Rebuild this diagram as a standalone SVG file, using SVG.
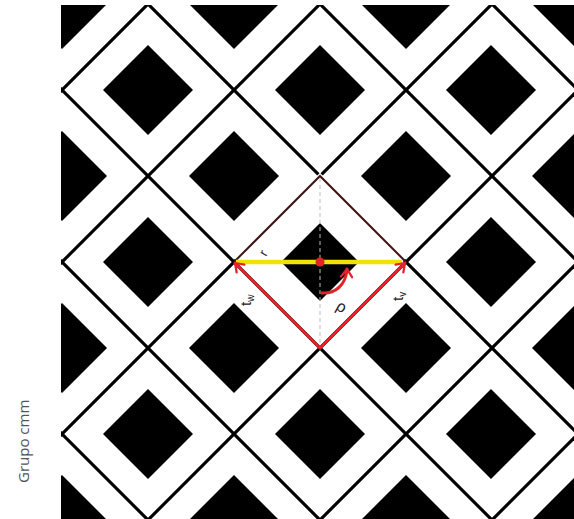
<svg xmlns="http://www.w3.org/2000/svg" xmlns:xlink="http://www.w3.org/1999/xlink" width="574" height="519" viewBox="0 0 574 519">
  <style>
    .grid line { stroke: #000; stroke-width: 3.2; }
    .dia { fill: #000; }
    .red { stroke: #e3222c; stroke-width: 3; fill: none; stroke-linecap: round; }
    .lbl { font-family: "Liberation Sans", Arial, sans-serif; fill: #222; }
  </style>
  <defs>
    <clipPath id="clip"><rect x="61" y="5" width="513" height="514"/></clipPath>
    <path id="d" d="M0,-45 L45,0 L0,45 L-45,0Z"/>
    <marker id="ah" markerUnits="userSpaceOnUse" markerWidth="14" markerHeight="14" viewBox="-12 -8 14 16" refX="0" refY="0" orient="auto">
      <path d="M-9,-6.3 L0,0 L-9,6.3" fill="none" stroke="#e3222c" stroke-width="2.6" stroke-linecap="round" stroke-linejoin="round"/>
    </marker>
  </defs>
  <rect width="574" height="519" fill="#fff"/>

  <g id="pattern" clip-path="url(#clip)">
    <g id="diamonds" class="dia">
      <use xlink:href="#d" x="62" y="4"/><use xlink:href="#d" x="234" y="4"/><use xlink:href="#d" x="406" y="4"/><use xlink:href="#d" x="577" y="4"/>
      <use xlink:href="#d" x="148" y="90"/><use xlink:href="#d" x="320" y="90"/><use xlink:href="#d" x="491" y="90"/>
      <use xlink:href="#d" x="62" y="176"/><use xlink:href="#d" x="234" y="176"/><use xlink:href="#d" x="406" y="176"/><use xlink:href="#d" x="577" y="176"/>
      <use xlink:href="#d" x="148" y="262"/><use xlink:href="#d" x="491" y="262"/>
      <path d="M320,223 L359,262 L320,301 L281,262Z"/>
      <use xlink:href="#d" x="62" y="348"/><use xlink:href="#d" x="234" y="348"/><use xlink:href="#d" x="406" y="348"/><use xlink:href="#d" x="577" y="348"/>
      <use xlink:href="#d" x="148" y="434"/><use xlink:href="#d" x="320" y="434"/><use xlink:href="#d" x="491" y="434"/>
      <use xlink:href="#d" x="62" y="520"/><use xlink:href="#d" x="234" y="520"/><use xlink:href="#d" x="406" y="520"/><use xlink:href="#d" x="577" y="520"/>
    </g>
    <g id="grid" class="grid">
      <line x1="-50" y1="-538" x2="650" y2="162"/>
      <line x1="-50" y1="-366" x2="650" y2="334"/>
      <line x1="-50" y1="-194" x2="650" y2="506"/>
      <line x1="-50" y1="-22" x2="650" y2="678"/>
      <line x1="-50" y1="150" x2="650" y2="850"/>
      <line x1="-50" y1="322" x2="650" y2="1022"/>
      <line x1="-50" y1="202" x2="650" y2="-498"/>
      <line x1="-50" y1="374" x2="650" y2="-326"/>
      <line x1="-50" y1="546" x2="650" y2="-154"/>
      <line x1="-50" y1="718" x2="650" y2="18"/>
      <line x1="-50" y1="890" x2="650" y2="190"/>
      <line x1="-50" y1="1062" x2="650" y2="362"/>
    </g>
  </g>

  <g id="cell-outline">
    <path d="M236,260 L320,176 L404,260" fill="none" stroke="#fff" stroke-width="4.5"/>
    <path d="M234,262 L320,176 L406,262" fill="none" stroke="#3d1212" stroke-width="2"/>
    <line x1="320" y1="178" x2="320" y2="347" stroke="#bdbdbd" stroke-width="1" stroke-dasharray="4 3"/>
  </g>

  <g id="connectors">
    <line id="r-line" x1="236" y1="262" x2="402" y2="262" stroke="#f2e200" stroke-width="4.5"/>
    <line id="tw" class="red" x1="320" y1="348" x2="235" y2="263" marker-end="url(#ah)"/>
    <line id="tv" class="red" x1="320" y1="348" x2="405" y2="263" marker-end="url(#ah)"/>
    <path id="rho-arc" class="red" stroke-width="2.2" d="M322,293 C334,294 346,286 347,269" marker-end="url(#ah)"/>
    <circle cx="320" cy="262" r="4.5" fill="#e3222c"/>
  </g>

  <g id="labels">
    <text class="lbl" font-size="13" transform="translate(266,257) rotate(-60)">r</text>
    <text class="lbl" font-size="16" transform="translate(335,309) rotate(30)">ρ</text>
    <text class="lbl" font-size="15" transform="translate(251,306) rotate(-90)">t<tspan font-size="10" dy="3">w</tspan></text>
    <text class="lbl" font-size="15" transform="translate(403,301) rotate(-90)">t<tspan font-size="10" dy="3">v</tspan></text>
  </g>

  <text id="caption" font-family="'Open Sans', 'Liberation Sans', sans-serif" font-size="15" fill="#555" transform="translate(29,483) rotate(-90)">Grupo cmm</text>
</svg>
